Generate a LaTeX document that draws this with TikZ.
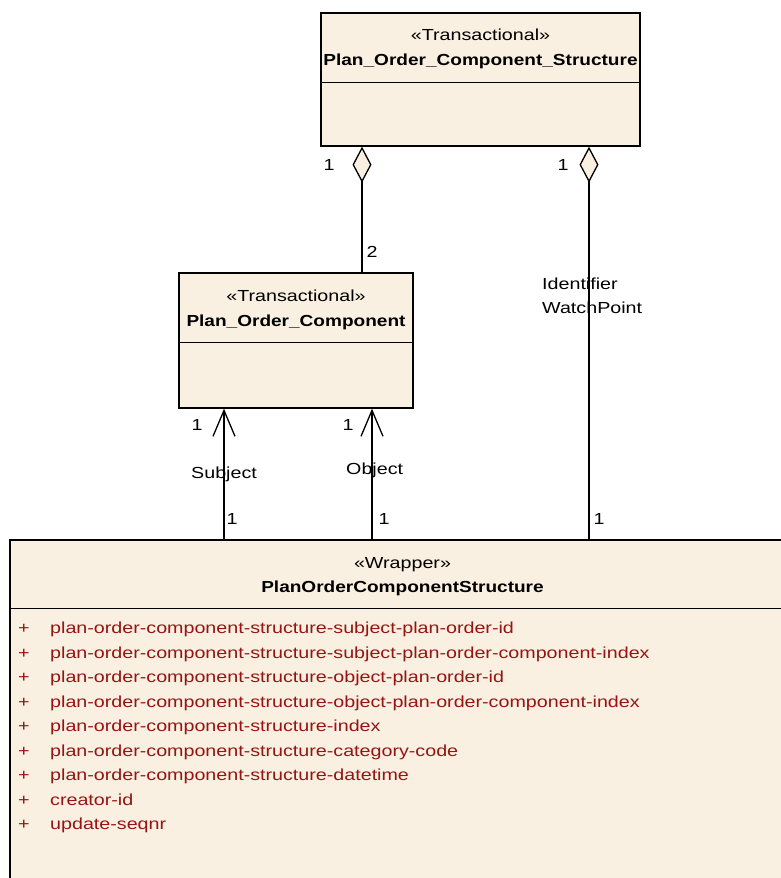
\documentclass[tikz,border=0pt]{standalone}
\usepackage{fontspec}
\setmainfont{Liberation Sans}
\newfontfamily\umlfont[FakeStretch=1.23]{Liberation Sans}
\newfontfamily\umlbold[FakeStretch=1.19]{Liberation Sans Bold}
\usetikzlibrary{arrows.meta,positioning}

\definecolor{umlfill}{RGB}{250,240,225}
\definecolor{umlred}{RGB}{150,20,20}

\begin{document}
\begin{tikzpicture}[x=1pt, y=-1pt,
    umlbox/.style={draw, line width=1.3pt, fill=umlfill, inner sep=0pt},
    lbl/.style={font=\umlfont\fontsize{16}{19}\selectfont, inner sep=0pt, text height=11.5pt, text depth=0pt},
    nm/.style={lbl, font=\umlbold\fontsize{16}{19}\selectfont},
    aggr/.style={line width=1.3pt, -{Diamond[length=36pt, width=19pt, fill=umlfill]}},
    nav/.style={line width=1.3pt, -{Straight Barb[length=26pt, width=22pt]}}]

    \useasboundingbox (0,0) rectangle (781,878);
    \clip (0,0) rectangle (781,878);

    % --- Classes ---
    \node[umlbox, minimum width=319pt, minimum height=133pt] (pocs) at (480.5,79.5) {};
    \draw[line width=1.3pt] ([yshift=-70pt]pocs.north west) -- ([yshift=-70pt]pocs.north east);
    \node[lbl] (pocsst) at (480.5,35) {«Transactional»};
    \node[nm] (pocsnm) at (480.5,60) {Plan\_Order\_Component\_Structure};

    \node[umlbox, minimum width=234pt, minimum height=135pt] (poc) at (296,340.5) {};
    \draw[line width=1.3pt] ([yshift=-70pt]poc.north west) -- ([yshift=-70pt]poc.north east);
    \node[lbl] (pocst) at (296,296) {«Transactional»};
    \node[nm] (pocnm) at (296,321) {Plan\_Order\_Component};

    \node[umlbox, minimum width=785pt, minimum height=360pt] (wrap) at (402.5,720) {};
    \draw[line width=1.3pt] ([yshift=-69pt]wrap.north west) -- ([yshift=-69pt]wrap.north east);
    \node[lbl] (wrapst) at (402.5,563) {«Wrapper»};
    \node[nm] (wrapnm) at (402.5,587) {PlanOrderComponentStructure};

    % attributes
    \foreach \attr [count=\i from 0] in {plan-order-component-structure-subject-plan-order-id,
        plan-order-component-structure-subject-plan-order-component-index,
        plan-order-component-structure-object-plan-order-id,
        plan-order-component-structure-object-plan-order-component-index,
        plan-order-component-structure-index,
        plan-order-component-structure-category-code,
        plan-order-component-structure-datetime,
        creator-id,
        update-seqnr} {
        \node[lbl, text=umlred, anchor=west] (plus\i) at (18,628+24.5*\i) {+};
        \node[lbl, text=umlred, anchor=west] (attr\i) at (50,628+24.5*\i) {\attr};
    }

    % --- Associations ---
    \draw[aggr] ([xshift=66pt]poc.north) -- ([xshift=-118.5pt]pocs.south);
    \node[lbl] (aggr1m) at (329,165) {1};
    \node[lbl] (aggr1n) at (372,252) {2};

    \draw[aggr] ([xshift=186.5pt]wrap.north) -- ([xshift=108.5pt]pocs.south);
    \node[lbl] (aggr2m) at (563,165) {1};
    \node[lbl, anchor=west] (idlbl) at (542,284) {Identifier};
    \node[lbl, anchor=west] (wplbl) at (542,308) {WatchPoint};
    \node[lbl] (aggr2n) at (599,519) {1};

    \draw[nav] ([xshift=-178.5pt]wrap.north) -- ([xshift=-72pt]poc.south);
    \node[lbl] (subjm) at (197,425) {1};
    \node[lbl, anchor=west] (subjlbl) at (191,473) {Subject};
    \node[lbl] (subjn) at (232,519) {1};

    \draw[nav] ([xshift=-30.5pt]wrap.north) -- ([xshift=76pt]poc.south);
    \node[lbl] (objm) at (348,425) {1};
    \node[lbl, anchor=west] (objlbl) at (346,469) {Object};
    \node[lbl] (objn) at (384,519) {1};

\end{tikzpicture}
\end{document}
